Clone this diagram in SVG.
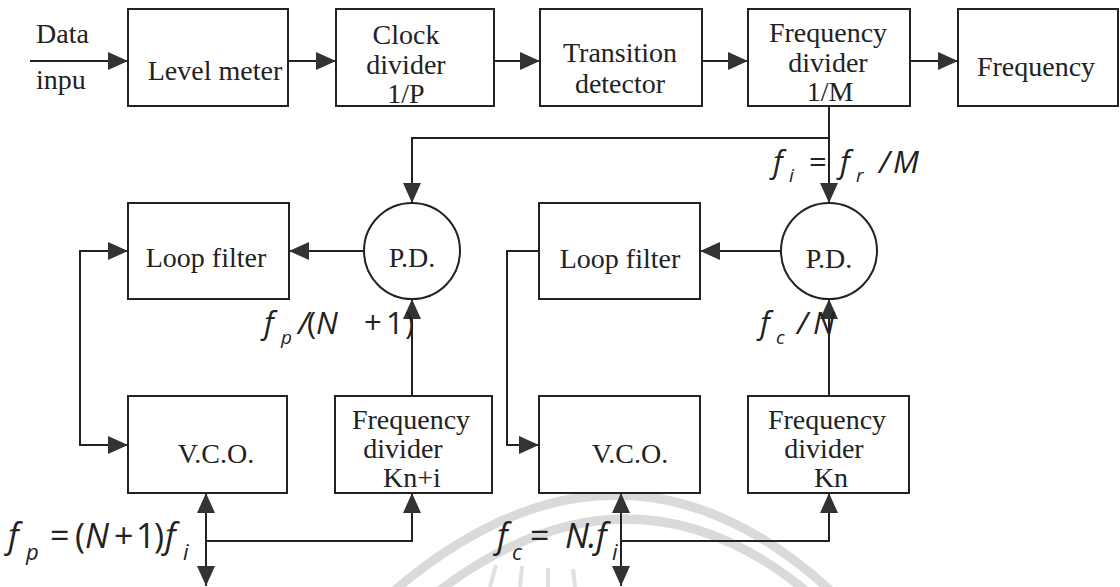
<svg xmlns="http://www.w3.org/2000/svg" width="1120" height="587" viewBox="0 0 1120 587">
<defs>
<marker id="ah" viewBox="0 0 20 18" refX="20" refY="9" markerWidth="20" markerHeight="18" markerUnits="userSpaceOnUse" orient="auto-start-reverse"><path d="M0,0 L20,9 L0,18 z" fill="#333"/></marker>
</defs>
<style>
.box{fill:#fff;stroke:#222;stroke-width:2}
.t{font-family:"Liberation Serif","Times New Roman",serif;font-size:28px;fill:#222;text-anchor:middle}
.tl{font-family:"Liberation Serif","Times New Roman",serif;font-size:28px;fill:#222}
.ln{fill:none;stroke:#222;stroke-width:2}
.a{marker-end:url(#ah)}
.m{font-family:"Open Sans","Noto Sans",sans-serif;font-style:italic;fill:#222}
.up{font-style:normal}
.wm{fill:none;stroke:#dadada;stroke-width:9}
.wr{fill:none;stroke:#e0e0e0;stroke-width:4}
</style>
<rect width="1120" height="587" fill="#fff"/>
<g id="watermark">
<path class="wm" d="M395 590 Q620 400 830 590"/>
<path class="wm" d="M440 590 Q630 448 805 590"/>
<path class="wr" d="M490 587 L496 565 M520 587 L522 566 M548 587 L548 568 M575 587 L573 569"/>
</g>
<g id="connectors">
<path class="ln a" d="M30 61 H128"/>
<path class="ln a" d="M288 61 H336"/>
<path class="ln a" d="M494 61 H540"/>
<path class="ln a" d="M702 61 H748"/>
<path class="ln a" d="M910 61 H958"/>
<path class="ln a" d="M829 106 V138 H412 V203"/>
<path class="ln a" d="M829 138 V203"/>
<path class="ln a" d="M364 251 H289"/>
<path class="ln a" d="M781 251 H700"/>
<path class="ln a" d="M128 445 H80 V251 H128" style="marker-start:url(#ah)"/>
<path class="ln a" d="M539 251 H507 V445 H539"/>
<path class="ln a" d="M412 396 V299"/>
<path class="ln a" d="M829 396 V299"/>
<path class="ln a" d="M206 586 V493" style="marker-start:url(#ah)"/>
<path class="ln a" d="M206 541 H412 V493"/>
<path class="ln a" d="M621 586 V493" style="marker-start:url(#ah)"/>
<path class="ln a" d="M621 541 H829 V493"/>
</g>
<g id="data-input">
<text class="tl" x="36" y="43">Data</text>
<text class="tl" x="36" y="89">inpu</text>
</g>
<g id="level-meter">
<rect class="box" x="128" y="9" width="160" height="97"/>
<text class="t" x="215" y="80">Level meter</text>
</g>
<g id="clock-divider">
<rect class="box" x="336" y="9" width="158" height="97"/>
<text class="t" x="406" y="44">Clock</text>
<text class="t" x="406" y="74">divider</text>
<text class="t" x="406" y="103">1/P</text>
</g>
<g id="transition-detector">
<rect class="box" x="540" y="9" width="162" height="97"/>
<text class="t" x="620" y="62">Transition</text>
<text class="t" x="620" y="93">detector</text>
</g>
<g id="frequency-divider-m">
<rect class="box" x="748" y="9" width="162" height="97"/>
<text class="t" x="828" y="42">Frequency</text>
<text class="t" x="828" y="72">divider</text>
<text class="t" x="830" y="101">1/M</text>
</g>
<g id="frequency">
<rect class="box" x="958" y="9" width="160" height="97"/>
<text class="t" x="1036" y="76">Frequency</text>
</g>
<g id="loop-filter-1">
<rect class="box" x="128" y="203" width="161" height="96"/>
<text class="t" x="206" y="267">Loop filter</text>
</g>
<g id="pd-1">
<circle class="box" cx="412" cy="251" r="48"/>
<text class="t" x="412" y="267">P.D.</text>
</g>
<g id="loop-filter-2">
<rect class="box" x="539" y="203" width="161" height="96"/>
<text class="t" x="620" y="268">Loop filter</text>
</g>
<g id="pd-2">
<circle class="box" cx="829" cy="251" r="48"/>
<text class="t" x="829" y="268">P.D.</text>
</g>
<g id="vco-1">
<rect class="box" x="128" y="396" width="159" height="97"/>
<text class="t" x="216" y="463">V.C.O.</text>
</g>
<g id="frequency-divider-kni">
<rect class="box" x="335" y="396" width="157" height="97"/>
<text class="t" x="411" y="429">Frequency</text>
<text class="t" x="403" y="458">divider</text>
<text class="t" x="412" y="487">Kn+i</text>
</g>
<g id="vco-2">
<rect class="box" x="539" y="396" width="161" height="97"/>
<text class="t" x="630" y="463">V.C.O.</text>
</g>
<g id="frequency-divider-kn">
<rect class="box" x="748" y="396" width="161" height="97"/>
<text class="t" x="827" y="429">Frequency</text>
<text class="t" x="824" y="458">divider</text>
<text class="t" x="831" y="487">Kn</text>
</g>
<g id="labels">
<text class="m" font-size="31"><tspan x="773" y="173">f</tspan><tspan x="789" y="182" font-size="19">i</tspan><tspan class="up" x="809" y="173">=</tspan><tspan x="840" y="173">f</tspan><tspan x="856" y="182" font-size="19">r</tspan><tspan x="879" y="173">/</tspan><tspan x="893" y="173">M</tspan></text>
<text class="m" font-size="31"><tspan x="264" y="334">f</tspan><tspan x="281" y="344" font-size="19">p</tspan><tspan x="298" y="334">/</tspan><tspan class="up" x="307" y="334">(</tspan><tspan x="316" y="334">N</tspan><tspan class="up" x="364" y="334">+</tspan><tspan class="up" x="386" y="334">1</tspan><tspan class="up" x="405" y="334">)</tspan></text>
<text class="m" font-size="31"><tspan x="760" y="334">f</tspan><tspan x="776" y="344" font-size="19">c</tspan><tspan x="797" y="334">/</tspan><tspan x="813" y="334">N</tspan></text>
<text class="m" font-size="34"><tspan x="8" y="548">f</tspan><tspan x="26" y="560" font-size="22">p</tspan><tspan class="up" x="50" y="548">=</tspan><tspan class="up" x="75" y="548">(</tspan><tspan x="85" y="548">N</tspan><tspan class="up" x="114" y="548">+</tspan><tspan class="up" x="136" y="548">1</tspan><tspan class="up" x="154" y="548">)</tspan><tspan x="165" y="548">f</tspan><tspan x="183" y="560" font-size="22">i</tspan></text>
<text class="m" font-size="34"><tspan x="497" y="548">f</tspan><tspan x="512" y="560" font-size="22">c</tspan><tspan class="up" x="530" y="548">=</tspan><tspan x="565" y="548">N</tspan><tspan x="588" y="548">.</tspan><tspan x="596" y="548">f</tspan><tspan x="612" y="560" font-size="22">i</tspan></text>
</g>
</svg>
